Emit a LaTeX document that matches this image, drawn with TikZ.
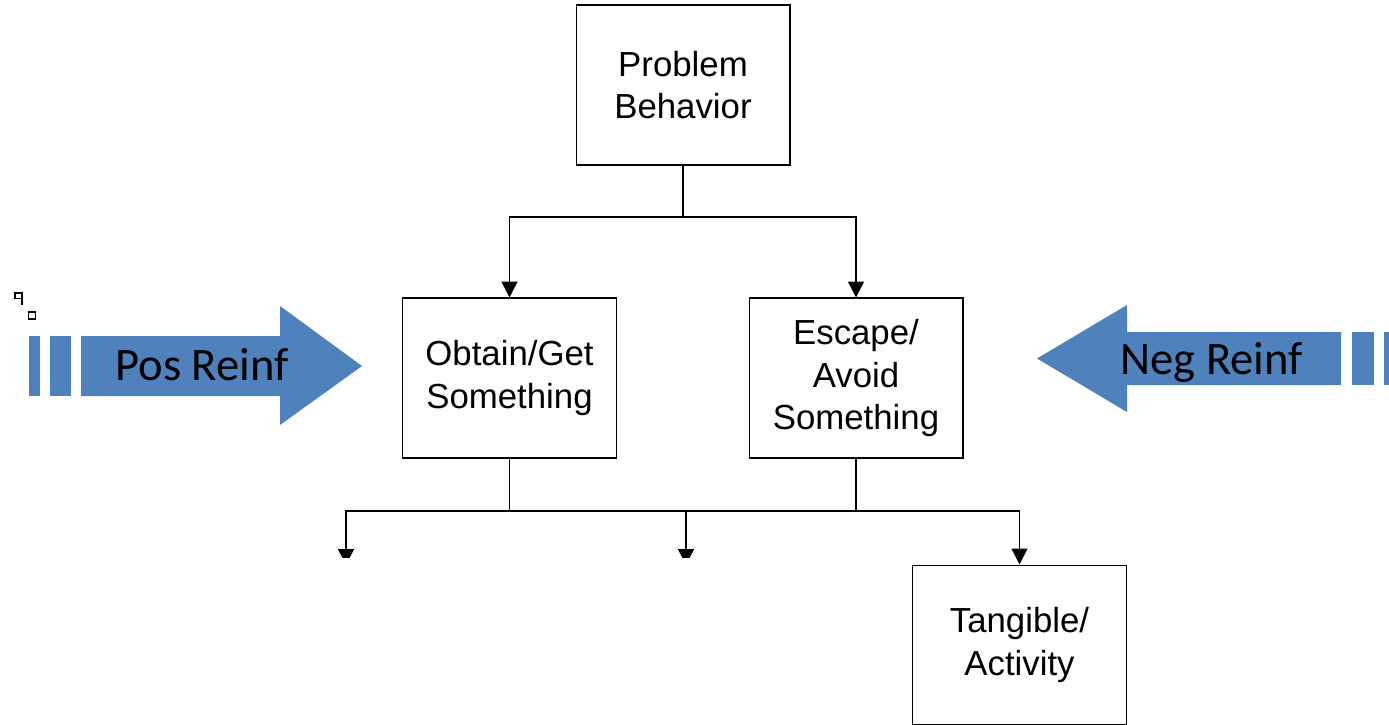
\documentclass[tikz,border=0pt]{standalone}
\usepackage{fontspec}
\setmainfont{Liberation Sans}
\newfontfamily\calibri{Carlito}
\usetikzlibrary{arrows.meta}
\definecolor{reinf}{HTML}{4F81BD}
\begin{document}
\begin{tikzpicture}[x=0.02cm,y=-0.02cm,
  box/.style={draw,line width=0.6pt,minimum width=4.28cm,minimum height=3.2cm,align=center,
    font=\fontsize{19.8}{24}\selectfont,inner sep=0pt},
  conn/.style={line width=0.8pt,-{Triangle[width=9pt,length=9pt]}},
  plain/.style={line width=0.8pt},
  rtext/.style={font=\calibri\fontsize{26.5}{30}\selectfont,inner sep=0pt,anchor=base},
  fmtmark/.style={line width=1.1pt}]
\clip (0,0) rectangle (1389,724);
\fill[white] (0,0) rectangle (1389,724);
% boxes
\node[box] (pb) at (683,85) {Problem\\Behavior};
\node[box] (obt) at (509.5,378) {Obtain/Get\\Something};
\node[box] (esc) at (856,378) {Escape/\\Avoid\\Something};
\node[box] (tan) at (1019.5,645) {Tangible/\\Activity};
% connectors top
\coordinate (j1) at (683,217);
\draw[plain] (pb.south) -- (j1);
\draw[conn] (j1) -| (obt.north);
\draw[conn] (j1) -| (esc.north);
% connectors bottom
\coordinate (j2) at (509.5,511);
\coordinate (j3) at (856,511);
\coordinate (t1) at (346,565);
\coordinate (t2) at (686,565);
\draw[plain] (obt.south) -- (j2);
\draw[plain] (esc.south) -- (j3);
\draw[plain] (j2) -- (j3);
\draw[conn] (j3) -| (tan.north);
\begin{scope}
  \clip (0,0) rectangle (1389,557);
  \draw[conn] (j2) -| (t1);
  \draw[conn] (j2) -| (t2);
\end{scope}
% Pos Reinf arrow
\fill[reinf] (29,336) rectangle (40,396);
\fill[reinf] (50,336) rectangle (71,396);
\fill[reinf] (81,336) -- (280,336) -- (280,306) -- (362,366) -- (280,425) -- (280,396) -- (81,396) -- cycle;
\node[rtext] (pos) at (202,380) {Pos Reinf};
% Neg Reinf arrow
\fill[reinf] (1037,358.5) -- (1127,305) -- (1127,332) -- (1341,332) -- (1341,385) -- (1127,385) -- (1127,412) -- cycle;
\fill[reinf] (1352,332) rectangle (1374,385);
\fill[reinf] (1384,332) rectangle (1400,385);
\node[rtext] (neg) at (1211.5,374.5) {Neg Reinf};
% small formatting marks
\draw[fmtmark] (22,305) -- (22,293) -- (15,293) -- (15,298.5) -- (22,298.5);
\draw[fmtmark] (28.5,312) rectangle (35.5,319);
\end{tikzpicture}
\end{document}
